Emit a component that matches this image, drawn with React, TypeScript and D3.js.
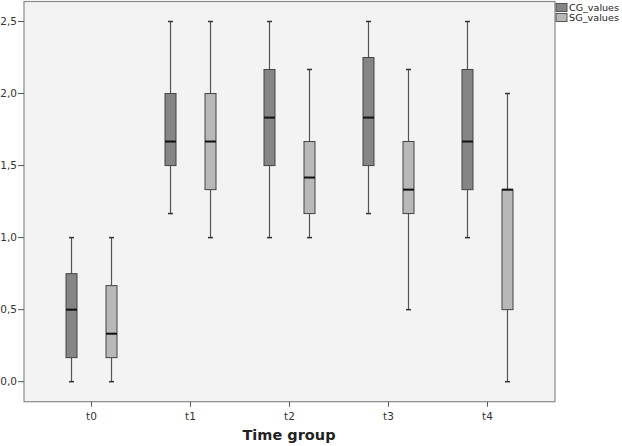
import React from "react";
import * as d3 from "d3";

const categories = ["t0", "t1", "t2", "t3", "t4"];
const seriesNames = ["CG_values", "SG_values"];
// [min, q1, median, q3, max]
const cgValues: number[][] = [
  [0, 0.167, 0.5, 0.75, 1.0],
  [1.167, 1.5, 1.667, 2.0, 2.5],
  [1.0, 1.5, 1.833, 2.167, 2.5],
  [1.167, 1.5, 1.833, 2.25, 2.5],
  [1.0, 1.333, 1.667, 2.167, 2.5],
];
const sgValues: number[][] = [
  [0, 0.167, 0.333, 0.667, 1.0],
  [1.0, 1.333, 1.667, 2.0, 2.5],
  [1.0, 1.167, 1.417, 1.667, 2.167],
  [0.5, 1.167, 1.333, 1.667, 2.167],
  [0, 0.5, 1.333, 1.333, 2.0],
];
const yTicks = [0, 0.5, 1.0, 1.5, 2.0, 2.5];
const colors = ["#858585", "#b8b8b8"];

export default function App() {
  const W = 622, H = 446;
  const left = 24, right = 555, top = 1.5, bottom = 401.7;
  const y = d3.scaleLinear().domain([0, 2.5]).range([381.7, 21.5]);
  const x = d3.scalePoint<string>().domain(categories).range([left, right]).padding(0.682);
  const offset = 20, bw = 11, cap = 2.5;
  const fmt = (v: number) => v.toFixed(1).replace(".", ",");
  const series = [cgValues, sgValues];

  return (
    <svg width={W} height={H} style={{ position: "absolute", left: 0, top: 0, fontFamily: "'DejaVu Sans', sans-serif" }}>
      <rect x={0} y={0} width={W} height={H} fill="#ffffff" />
      <rect x={left} y={top} width={right - left} height={bottom - top} fill="#f3f3f3" stroke="#8a8a8a" strokeWidth={1.2} />
      {yTicks.map((t) => (
        <g key={t}>
          <line x1={left - 6} x2={left} y1={y(t)} y2={y(t)} stroke="#555" strokeWidth={1} />
          <text x={left - 7} y={y(t)} dy="0.35em" textAnchor="end" fontSize={10.5} fill="#333">{fmt(t)}</text>
        </g>
      ))}
      {categories.map((c) => (
        <g key={c}>
          <line x1={x(c)!} x2={x(c)!} y1={bottom} y2={bottom + 5} stroke="#555" strokeWidth={1} />
          <text x={x(c)!} y={bottom + 18} textAnchor="middle" fontSize={10.5} fill="#333">{c}</text>
        </g>
      ))}
      {series.map((vals, si) =>
        vals.map((v, i) => {
          const cx = x(categories[i])! + (si === 0 ? -offset : offset);
          const [mn, q1, md, q3, mx] = v;
          return (
            <g key={si + "-" + i}>
              <line x1={cx} x2={cx} y1={y(mx)} y2={y(q3)} stroke="#555" strokeWidth={1.2} />
              <line x1={cx} x2={cx} y1={y(q1)} y2={y(mn)} stroke="#555" strokeWidth={1.2} />
              <line x1={cx - cap} x2={cx + cap} y1={y(mx)} y2={y(mx)} stroke="#333" strokeWidth={1.5} />
              <line x1={cx - cap} x2={cx + cap} y1={y(mn)} y2={y(mn)} stroke="#333" strokeWidth={1.5} />
              <rect x={cx - bw / 2} y={y(q3)} width={bw} height={Math.max(0.5, y(q1) - y(q3))} fill={colors[si]} stroke="#444" strokeWidth={1} />
              <line x1={cx - bw / 2} x2={cx + bw / 2} y1={y(md)} y2={y(md)} stroke="#111" strokeWidth={2} />
            </g>
          );
        })
      )}
      <text x={289} y={440} textAnchor="middle" fontSize={14.5} fontWeight="bold" fill="#222">Time group</text>
      {seriesNames.map((n, i) => (
        <g key={n}>
          <rect x={556} y={3.5 + i * 10} width={11} height={8} fill={colors[i]} stroke="#555" strokeWidth={1} />
          <text x={569} y={8 + i * 10} dy="0.35em" fontSize={9.5} fill="#222" textLength={50} lengthAdjust="spacingAndGlyphs">{n}</text>
        </g>
      ))}
    </svg>
  );
}
